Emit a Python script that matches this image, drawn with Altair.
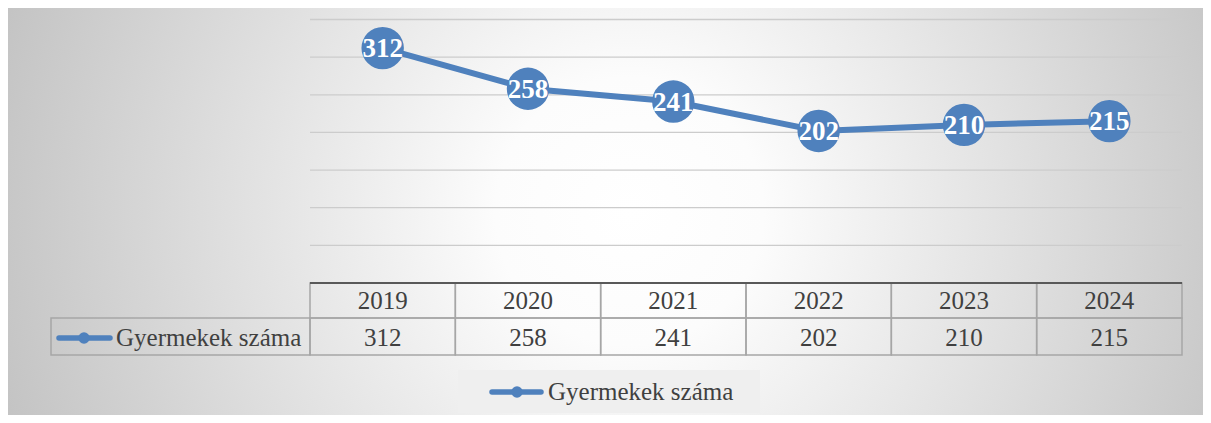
import altair as alt
import pandas as pd

years = ["2019", "2020", "2021", "2022", "2023", "2024"]
values = [312, 258, 241, 202, 210, 215]
series_name = "Gyermekek száma"
grid_values = [50, 100, 150, 200, 250, 300, 350]

BLUE = "#4f81bd"
TXT = "#404040"
FONT = "Liberation Serif"
W, H = 872, 263.5

df = pd.DataFrame({"year": years, "value": values})
one = pd.DataFrame({"a": [0]})
grid_df = pd.DataFrame({"g": grid_values})

xs = alt.X("year:N", sort=years, scale=alt.Scale(type="band", paddingInner=0, paddingOuter=0), axis=None)
ysc = alt.Scale(domain=[0, 350], nice=False, zero=True)

bg = alt.Chart(one).mark_rect(
    fill=alt.RadialGradient(
        gradient="radial",
        stops=[alt.GradientStop(offset=0, color="#ffffff"),
               alt.GradientStop(offset=0.2, color="#fcfcfc"),
               alt.GradientStop(offset=1, color="#c2c2c2")],
        x1=0.52, y1=0.5, x2=0.52, y2=0.5, r1=0, r2=0.56),
).encode(x=alt.value(-302), x2=alt.value(893), y=alt.value(-11.5), y2=alt.value(395.5))

grid = alt.Chart(grid_df).mark_rule(color="#cccccc", strokeWidth=1.3).encode(
    y=alt.Y("g:Q", scale=ysc, axis=None), x=alt.value(0), x2=alt.value(W))

cells1 = alt.Chart(df).mark_rect(fillOpacity=0, stroke="#a6a6a6", strokeWidth=1.5).encode(
    x=xs, y=alt.value(H), y2=alt.value(298.5))
cells2 = alt.Chart(df).mark_rect(fillOpacity=0, stroke="#a6a6a6", strokeWidth=1.5).encode(
    x=xs, y=alt.value(298.5), y2=alt.value(335.5))
head_cell = alt.Chart(one).mark_rect(fillOpacity=0, stroke="#a6a6a6", strokeWidth=1.5).encode(
    x=alt.value(-259), x2=alt.value(0), y=alt.value(298.5), y2=alt.value(335.5))
top_line = alt.Chart(one).mark_rule(color="#595959", strokeWidth=2).encode(
    x=alt.value(0), x2=alt.value(W), y=alt.value(H))

t_years = alt.Chart(df).mark_text(font=FONT, fontSize=25, color=TXT, baseline="middle").encode(
    x=xs, y=alt.value(281.5), text="year:N")
t_vals = alt.Chart(df).mark_text(font=FONT, fontSize=25, color=TXT, baseline="middle").encode(
    x=xs, y=alt.value(318.5), text="value:Q")

name_df = pd.DataFrame({"name": [series_name]})
h_line = alt.Chart(one).mark_rule(color=BLUE, strokeWidth=5.5, strokeCap="round").encode(
    x=alt.value(-251), x2=alt.value(-200), y=alt.value(318.5))
h_dot = alt.Chart(one).mark_circle(color=BLUE, opacity=1, size=130).encode(
    x=alt.value(-226), y=alt.value(318.5))
h_text = alt.Chart(name_df).mark_text(font=FONT, fontSize=25, color=TXT, align="left", baseline="middle").encode(
    x=alt.value(-194), y=alt.value(318.5), text="name:N")

line = alt.Chart(df).mark_line(color=BLUE, strokeWidth=6).encode(
    x=xs, y=alt.Y("value:Q", scale=ysc, axis=None))
dots = alt.Chart(df).mark_circle(color=BLUE, opacity=1, size=1800).encode(
    x=xs, y=alt.Y("value:Q", scale=ysc, axis=None))
labels = alt.Chart(df).mark_text(font=FONT, fontSize=27, fontWeight="bold", color="white", baseline="middle", dy=1).encode(
    x=xs, y=alt.Y("value:Q", scale=ysc, axis=None), text="value:Q")

leg_box = alt.Chart(one).mark_rect(fill="#efefef").encode(
    x=alt.value(148), x2=alt.value(450), y=alt.value(350.5), y2=alt.value(393.5))
leg_line = alt.Chart(one).mark_rule(color=BLUE, strokeWidth=5.5, strokeCap="round").encode(
    x=alt.value(182), x2=alt.value(231), y=alt.value(372.5))
leg_dot = alt.Chart(one).mark_circle(color=BLUE, opacity=1, size=130).encode(
    x=alt.value(207), y=alt.value(372.5))
leg_text = alt.Chart(name_df).mark_text(font=FONT, fontSize=25, color=TXT, align="left", baseline="middle").encode(
    x=alt.value(238), y=alt.value(372.5), text="name:N")

chart = alt.layer(
    bg, grid, cells1, cells2, head_cell, top_line, t_years, t_vals,
    h_line, h_dot, h_text, line, dots, labels, leg_box, leg_line, leg_dot, leg_text
).properties(
    width=W, height=H,
    padding={"left": 302, "top": 11.5, "right": 21, "bottom": 132},
    autosize=alt.AutoSizeParams(type="none"),
).configure_view(stroke=None)

chart.save("out.html", embed_options={"renderer": "svg", "actions": False})
